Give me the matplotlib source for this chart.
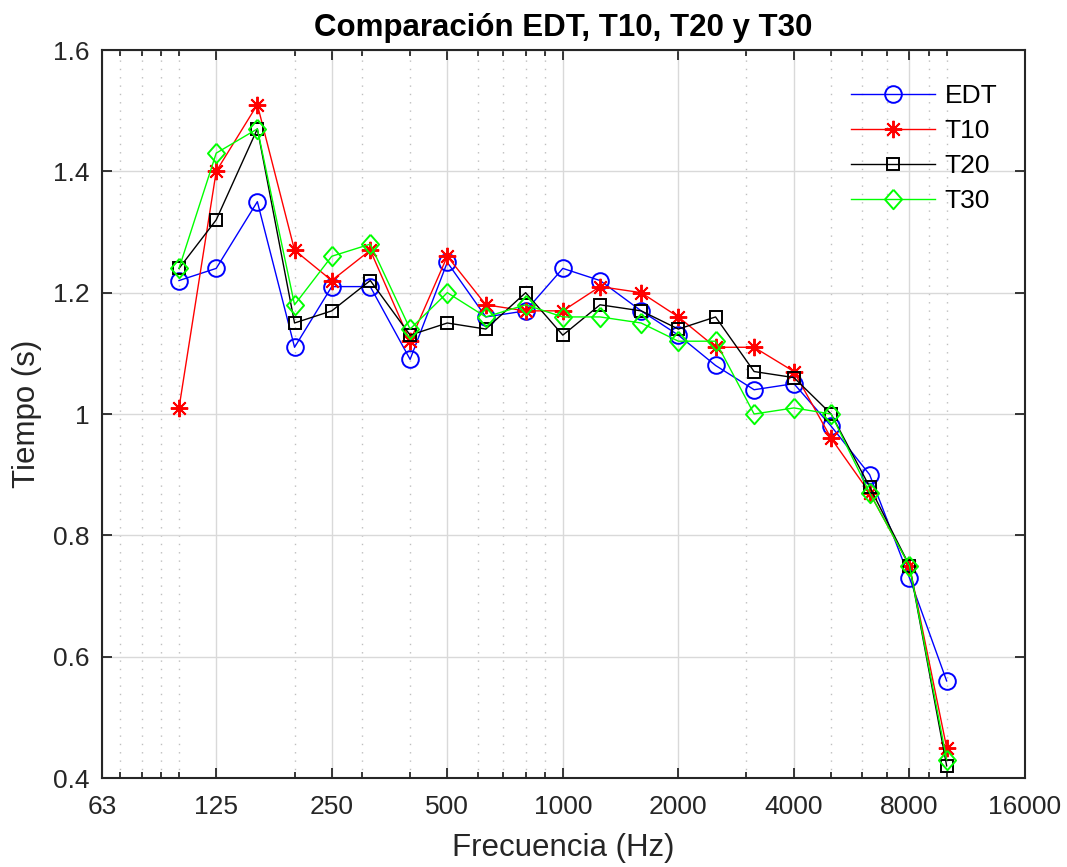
import matplotlib
matplotlib.use("Agg")
import matplotlib.pyplot as plt
from matplotlib.ticker import FixedLocator, FixedFormatter, NullFormatter

plt.rcParams['font.family'] = ['Liberation Sans', 'DejaVu Sans']

freqs = [100, 125, 160, 200, 250, 315, 400, 500, 630, 800, 1000, 1250,
         1600, 2000, 2500, 3150, 4000, 5000, 6300, 8000, 10000]
edt = [1.22, 1.24, 1.35, 1.11, 1.21, 1.21, 1.09, 1.25, 1.16, 1.17, 1.24, 1.22,
       1.17, 1.13, 1.08, 1.04, 1.05, 0.98, 0.90, 0.73, 0.56]
t10 = [1.01, 1.40, 1.51, 1.27, 1.22, 1.27, 1.12, 1.26, 1.18, 1.17, 1.17, 1.21,
       1.20, 1.16, 1.11, 1.11, 1.07, 0.96, 0.87, 0.75, 0.45]
t20 = [1.24, 1.32, 1.47, 1.15, 1.17, 1.22, 1.13, 1.15, 1.14, 1.20, 1.13, 1.18,
       1.17, 1.14, 1.16, 1.07, 1.06, 1.00, 0.88, 0.75, 0.42]
t30 = [1.24, 1.43, 1.47, 1.18, 1.26, 1.28, 1.14, 1.20, 1.16, 1.18, 1.16, 1.16,
       1.15, 1.12, 1.12, 1.00, 1.01, 1.00, 0.87, 0.75, 0.43]
series_labels = ['EDT', 'T10', 'T20', 'T30']

x_major = [63, 125, 250, 500, 1000, 2000, 4000, 8000, 16000]
x_major_labels = ['63', '125', '250', '500', '1000', '2000', '4000', '8000', '16000']
x_minor = [70, 80, 90, 100, 200, 300, 400, 600, 700, 800, 900,
           3000, 5000, 6000, 7000, 9000, 10000]
y_ticks = [0.4, 0.6, 0.8, 1.0, 1.2, 1.4, 1.6]
y_tick_labels = ['0.4', '0.6', '0.8', '1', '1.2', '1.4', '1.6']

fig = plt.figure(figsize=(10.67, 8.67), dpi=100)
ax = fig.add_axes([102/1067, 1 - 778/867, (1025-102)/1067, (778-50)/867])

diamond = [(0, 1), (0.88, 0), (0, -1), (-0.88, 0), (0, 1)]
styles = [
    dict(color=(0, 0, 1), marker='o', ms=12),
    dict(color=(1, 0, 0), marker=(8, 2, 0), ms=12.5),
    dict(color=(0, 0, 0), marker='s', ms=9),
    dict(color=(0, 1, 0), marker=diamond, ms=14),
]
for data, lab, st in zip([edt, t10, t20, t30], series_labels, styles):
    ax.plot(freqs, data, color=st['color'], lw=1.0, marker=st['marker'],
            ms=st['ms'], mfc='none', mec=st['color'], mew=1.4, label=lab,
            zorder=3)

ax.set_xscale('log')
ax.set_xlim(63, 16000)
ax.set_ylim(0.4, 1.6)
ax.xaxis.set_major_locator(FixedLocator(x_major))
ax.xaxis.set_major_formatter(FixedFormatter(x_major_labels))
ax.xaxis.set_minor_locator(FixedLocator(x_minor))
ax.xaxis.set_minor_formatter(NullFormatter())
ax.yaxis.set_major_locator(FixedLocator(y_ticks))
ax.yaxis.set_major_formatter(FixedFormatter(y_tick_labels))

ax.grid(True, which='major', axis='both', color=(0.85, 0.85, 0.85), lw=1.0, zorder=0)
ax.grid(True, which='minor', axis='x', color=(0.75, 0.75, 0.75), lw=1.0,
        linestyle=(0, (1, 5)), zorder=0)
ax.set_axisbelow(True)

dark = (0.15, 0.15, 0.15)
for sp in ax.spines.values():
    sp.set_color(dark)
    sp.set_linewidth(1.5)
ax.tick_params(which='both', direction='in', top=True, right=True, colors=dark,
               labelcolor=dark, labelsize=19, width=1.3)
ax.tick_params(which='major', length=7)
ax.tick_params(axis='x', which='major', pad=12)
ax.tick_params(axis='y', which='major', pad=9)
ax.tick_params(which='minor', length=4)

ax.set_xlabel('Frecuencia (Hz)', fontsize=22.5, color=dark, labelpad=10)
ax.set_ylabel('Tiempo (s)', fontsize=22.5, color=dark, labelpad=8)
ax.set_title('Comparación EDT, T10, T20 y T30', fontsize=22.5, fontweight='bold',
             pad=10)

leg = ax.legend(loc='upper left', bbox_to_anchor=(851/1067, 1 - 84/867),
                bbox_transform=fig.transFigure, frameon=False, fontsize=19,
                handlelength=3.2, handletextpad=0.35, labelspacing=0.42,
                borderpad=0, borderaxespad=0)
for t in leg.get_texts():
    t.set_color('black')

fig.savefig('out.png', dpi=100)
